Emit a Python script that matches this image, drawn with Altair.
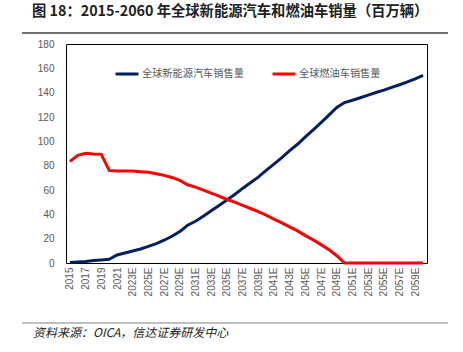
import altair as alt
import pandas as pd

years = ["2015", "2016", "2017", "2018", "2019", "2020", "2021"] + [f"{y}E" for y in range(2022, 2061)]
nev = [0.5, 0.8, 1.2, 2.0, 2.5, 3.1, 6.6, 8.2, 9.9, 11.5, 13.7, 15.9, 18.7, 22.0, 25.8, 31.0,
       34.3, 38.5, 42.9, 47.3, 51.7, 56.3, 61.3, 66.0, 70.6, 76.1, 81.3, 86.6, 92.3, 97.6,
       103.6, 109.4, 115.4, 121.5, 127.8, 131.9, 133.8, 135.8, 138.0, 140.1, 142.1, 144.3,
       146.5, 148.9, 151.4, 154.2]
ice = [83.5, 88.5, 90.1, 89.6, 89.3, 76.1, 75.6, 75.6, 75.6, 75.0, 74.5, 73.4, 72.0, 70.3,
       67.9, 64.3, 62.4, 59.9, 57.4, 55.0, 52.2, 50.0, 47.3, 44.8, 42.3, 39.3, 36.0, 33.0,
       29.7, 26.4, 22.5, 19.0, 15.1, 11.0, 6.0, 0, 0, 0, 0, 0, 0, 0, 0, 0, 0, 0]
series_names = ["全球新能源汽车销售量", "全球燃油车销售量"]
series_colors = ["#002060", "#FF0000"]
title_text = "图 18：2015-2060 年全球新能源汽车和燃油车销量（百万辆）"
source_text = "资料来源：OICA，信达证券研发中心"

rows = []
for i, y in enumerate(years):
    rows.append({"year": y, "series": series_names[0], "value": nev[i], "order": i})
    rows.append({"year": y, "series": series_names[1], "value": ice[i], "order": i})
df = pd.DataFrame(rows)

CJK = "Noto Sans CJK SC"
LAT = "Liberation Sans"

lines = alt.Chart(df).mark_line(strokeWidth=3).encode(
    x=alt.X("year:O", sort=years, title=None,
            axis=alt.Axis(values=years[::2], labelAngle=270, labelFont=LAT, labelFontSize=10,
                          labelColor="#595959", ticks=False, domain=False, labelPadding=4,
                          labelAlign="right", labelBaseline="middle")),
    y=alt.Y("value:Q", title=None,
            scale=alt.Scale(domain=[0, 180], nice=False),
            axis=alt.Axis(values=list(range(0, 181, 20)), labelFont=LAT, labelFontSize=10,
                          labelColor="#595959", ticks=False, domain=False, grid=False,
                          labelPadding=12)),
    color=alt.Color("series:N", scale=alt.Scale(domain=series_names, range=series_colors),
                    legend=alt.Legend(title=None, orient="none", legendX=48, legendY=17,
                                      direction="horizontal", symbolType="stroke",
                                      symbolSize=529, symbolStrokeWidth=3,
                                      labelFont=CJK, labelFontSize=10.2, labelColor="#595959",
                                      columnPadding=22, labelOffset=2)),
    order="order:Q",
)

title = alt.Chart(pd.DataFrame({"t": [title_text]})).mark_text(
    align="left", baseline="middle", font=CJK, fontSize=14.3, fontWeight="bold", color="#222222"
).encode(x=alt.value(-34), y=alt.value(-32), text="t:N")

source = alt.Chart(pd.DataFrame({"t": [source_text]})).mark_text(
    align="left", baseline="middle", font=CJK, fontSize=12, fontStyle="italic", color="#222222"
).encode(x=alt.value(-33), y=alt.value(289), text="t:N")

top_rule = alt.Chart(pd.DataFrame({"a": [0]})).mark_rule(color="#404040", strokeWidth=1.5).encode(
    x=alt.value(-44), x2=alt.value(382), y=alt.value(-11))
bottom_rule = alt.Chart(pd.DataFrame({"a": [0]})).mark_rule(color="#808080", strokeWidth=1).encode(
    x=alt.value(-44), x2=alt.value(382), y=alt.value(279))

chart = alt.layer(lines, title, source, top_rule, bottom_rule).properties(
    width=361, height=219,
    autosize=alt.AutoSizeParams(type="none"),
    padding={"left": 66, "top": 44, "right": 36, "bottom": 89},
    background="white",
).configure_view(stroke="black", strokeWidth=1)

chart.save("out.html", embed_options={"renderer": "svg", "actions": False})
